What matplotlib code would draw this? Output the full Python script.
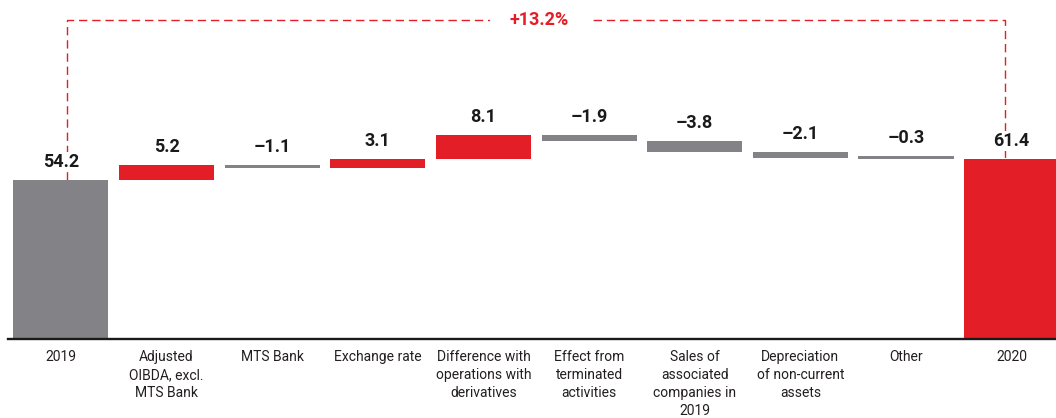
import matplotlib

matplotlib.use("Agg")
import matplotlib.pyplot as plt

plt.rcParams["font.family"] = ["Roboto", "DejaVu Sans"]

RED = "#e31e27"
GREY = "#838387"

categories = [
    "2019",
    "Adjusted\nOIBDA, excl.\nMTS Bank",
    "MTS Bank",
    "Exchange rate",
    "Difference with\noperations with\nderivatives",
    "Effect from\nterminated\nactivities",
    "Sales of\nassociated\ncompanies in\n2019",
    "Depreciation\nof non-current\nassets",
    "Other",
    "2020",
]
start_value = 54.2
changes = [5.2, -1.1, 3.1, 8.1, -1.9, -3.8, -2.1, -0.3]
end_value = 61.4
growth_label = "+13.2%"

fig = plt.figure(figsize=(10.56, 4.18), dpi=100)
ax = fig.add_axes([8 / 1056, 79 / 418, 1 - 8 / 1056, 339 / 418])

# waterfall geometry (tiny steps get a minimum visible thickness)
min_h = 1.0
bottoms, heights, colors, tops = [0], [start_value], [GREY], [start_value]
level = start_value
for c in changes:
    new = level + c
    lo = min(level, new)
    h = max(abs(c), min_h)
    bottoms.append(lo)
    heights.append(h)
    colors.append(RED if c > 0 else GREY)
    tops.append(lo + h)
    level = new
bottoms.append(0)
heights.append(end_value)
colors.append(RED)
tops.append(end_value)

x = list(range(len(categories)))
ax.bar(x, heights, bottom=bottoms, width=0.9, color=colors, zorder=2)

values = [start_value] + changes + [end_value]
for i, (v, t) in enumerate(zip(values, tops)):
    ax.annotate(
        f"{v:.1f}".replace("-", "\u2013"),
        xy=(i, t), xytext=(0, 6.5), textcoords="offset points",
        ha="center", va="bottom", fontsize=13, fontweight="bold",
        color="#1a1a1a", zorder=4,
        bbox=dict(boxstyle="square,pad=0.05", fc="white", ec="none"),
    )

# dashed bracket from 2019 to 2020
top_y = 108.9
dash = dict(color=RED, lw=1.0, dashes=(6, 3.5), zorder=1)
x0, x1 = 0.06, len(categories) - 1 - 0.06
ax.plot([x0, x0, x1, x1], [start_value, top_y, top_y, end_value], **dash)
ax.text(
    (x0 + x1) / 2 + 0.03, top_y, growth_label, ha="center", va="center",
    fontsize=13, fontweight="bold", color=RED, zorder=3,
    bbox=dict(boxstyle="square,pad=1.1", fc="white", ec="none"),
)

ax.set_xlim(-0.5, 9.42)
ax.set_ylim(0, 115.7)
ax.set_xticks(x)
ax.set_xticklabels(categories, fontsize=10, color="#231f20", linespacing=1.35)
ax.tick_params(axis="x", length=0, pad=8)
ax.set_yticks([])
for s in ["top", "right", "left"]:
    ax.spines[s].set_visible(False)
ax.spines["bottom"].set_linewidth(1.7)
ax.spines["bottom"].set_color("#1a1a1a")
ax.spines["bottom"].set_zorder(5)

fig.savefig("out.png", dpi=100)
